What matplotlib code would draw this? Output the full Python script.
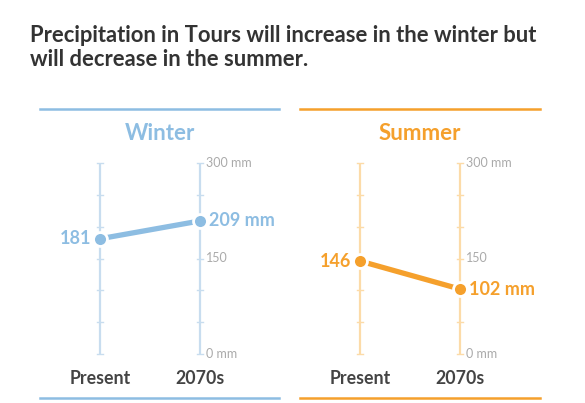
import matplotlib
matplotlib.use("Agg")
import matplotlib.pyplot as plt
from matplotlib.lines import Line2D

plt.rcParams['font.family'] = ['Lato', 'DejaVu Sans']

title = "Precipitation in Tours will increase in the winter but\nwill decrease in the summer."
seasons = ["Winter", "Summer"]
periods = ["Present", "2070s"]
winter_values = [181, 209]
summer_values = [146, 102]
tick_values = [0, 50, 100, 150, 200, 250, 300]
tick_labels = {300: "300 mm", 150: "150", 0: "0 mm"}

main_colors = ["#8dbde2", "#f5a02c"]
light_colors = ["#c8ddef", "#fcdba8"]

W, H = 585, 403
fig = plt.figure(figsize=(W / 100, H / 100), dpi=100)
fig.patch.set_facecolor("white")

fig.text(30 / W, 1 - 36 / H, title.split("\n")[0], fontsize=15.8, fontweight="bold",
         color="#333333", ha="left", va="center")
fig.text(30 / W, 1 - 60 / H, title.split("\n")[1], fontsize=15.8, fontweight="bold",
         color="#333333", ha="left", va="center")

panel_lefts = [100, 360]
panel_spans = [(40, 279), (300, 540)]
series = [winter_values, summer_values]

for i, season in enumerate(seasons):
    mc, lc = main_colors[i], light_colors[i]
    x0 = panel_lefts[i]
    ax = fig.add_axes([x0 / W, (H - 354) / H, 100 / W, 191 / H])
    ax.set_xlim(0, 1)
    ax.set_ylim(0, 300)
    ax.axis("off")

    a, b = panel_spans[i]
    for yy in (109, 398):
        fig.add_artist(Line2D([a / W, b / W], [1 - yy / H, 1 - yy / H],
                              color=mc, lw=1.8, transform=fig.transFigure))

    ax.text(0.6, 347, season, ha="center", va="center", fontsize=16,
            fontweight="bold", color=mc, clip_on=False)

    for xp in (0, 1):
        ax.plot([xp, xp], [0, 300], color=lc, lw=1.6, solid_capstyle="butt", clip_on=False)
        for t in tick_values:
            ax.plot([xp - 0.03, xp + 0.03], [t, t], color=lc, lw=1.0, clip_on=False)
    for t, lab in tick_labels.items():
        ax.text(1.06, t, lab, ha="left", va="center", fontsize=9,
                color="#aaaaaa", clip_on=False)

    vals = series[i]
    ax.plot([0, 1], vals, color=mc, lw=3.8, solid_capstyle="butt", clip_on=False, zorder=3)
    ax.plot([0, 1], vals, "o", color=mc, markersize=10, markeredgecolor="white",
            markeredgewidth=2, clip_on=False, zorder=4)
    ax.text(-0.09, vals[0], f"{vals[0]}", ha="right", va="center", fontsize=13,
            fontweight="bold", color=mc, clip_on=False)
    ax.text(1.09, vals[1], f"{vals[1]} mm", ha="left", va="center", fontsize=13,
            fontweight="bold", color=mc, clip_on=False)

    for xp, p in zip((0, 1), periods):
        ax.text(xp, -37.7, p, ha="center", va="center", fontsize=12.8,
                fontweight="bold", color="#444444", clip_on=False)

fig.savefig("out.png", dpi=100, facecolor="white")
